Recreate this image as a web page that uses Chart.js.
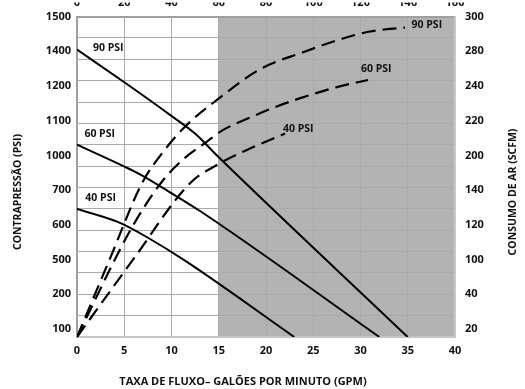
<!DOCTYPE html>
<html><head><meta charset="utf-8">
<script src="https://cdn.jsdelivr.net/npm/chart.js@4"></script>
<style>html,body{margin:0;padding:0;background:#fff;}canvas{display:block;}</style>
</head><body>
<canvas id="c" width="525" height="389"></canvas>
<script>
// Tick labels (left & right axes use the chart's own, unevenly valued, labels)
const LEFT_LABELS  = [100, 200, 500, 600, 700, 1000, 1100, 1200, 1400, 1500];
const RIGHT_LABELS = [20, 40, 100, 120, 140, 200, 220, 240, 280, 300];
const GPM_MIN = 0, GPM_MAX = 40, GPM_STEP = 5;
const TOP_MIN = 0, TOP_MAX = 160, TOP_STEP = 20;
const SHADE_FROM = 15, SHADE_TO = 40;

// Back pressure (PSI) vs flow (GPM) - solid lines
const BP90_GPM = [0, 4.97, 9.84, 12.49, 14.92, 35];
const BP90_PSI = [1405, 1223, 1117, 1063, 991, 77];
const BP60_GPM = [0, 4.97, 6.67, 9.84, 13.02, 32];
const BP60_PSI = [1031, 906, 837, 694, 640, 77];
const BP40_GPM = [0, 4.55, 7.51, 11.43, 23];
const BP40_PSI = [646, 606, 563, 491, 77];

// Air consumption (SCFM) vs flow (GPM) - dashed lines
const AIR90_GPM  = [0, 3.49, 6.88, 9.31, 11.64, 14.81, 19.37, 23.92, 28.15, 31.01, 34.71];
const AIR90_SCFM = [15.4, 100.6, 152, 203.4, 217.7, 232, 259.4, 278.9, 287.4, 291.4, 293.7];
const AIR60_GPM  = [0, 5.61, 8.78, 11.22, 13.76, 15.34, 17.99, 20.74, 23.39, 27.51, 30.79];
const AIR60_SCFM = [15.4, 116.6, 150.3, 193.1, 208, 214.3, 221.1, 227.4, 232.6, 239.4, 246.9];
const AIR40_GPM  = [0, 5.93, 11.96, 14.92, 18.31, 22.01];
const AIR40_SCFM = [15.4, 100, 152, 184.6, 204, 212.6];

// Curve labels: [text, gpm, value]
const SOLID_LABELS  = [["90 PSI", 3.3, 1409], ["60 PSI", 2.4, 1063], ["40 PSI", 2.5, 677]];
const DASHED_LABELS = [["90 PSI", 35.4, 295.4], ["60 PSI", 30.05, 259.4], ["40 PSI", 21.8, 215.4]];

const X_TITLE = "TAXA DE FLUXO\u2013 GAL\u00d5ES POR MINUTO (GPM)";
const YL_TITLE = "CONTRAPRESS\u00c3O (PSI)";
const YR_TITLE = "CONSUMO DE AR (SCFM)";

// position on the label axis (piecewise linear between labelled ticks)
function toPos(v, labels) {
  let i = 0;
  while (i < labels.length - 2 && v > labels[i + 1]) i++;
  return i + (v - labels[i]) / (labels[i + 1] - labels[i]);
}
function pts(xs, ys, labels) { return xs.map((g, i) => ({x: g, y: toPos(ys[i], labels)})); }

const FONT = 'Open Sans';
const TICK_FONT = {family: FONT, size: 11, weight: 'bold'};
const GRID = '#aaaaaa';
const POS_MIN = -8 / 35, POS_MAX = 9;

function solid(xs, ys) {
  return {data: pts(xs, ys, LEFT_LABELS), yAxisID: 'y', xAxisID: 'x', borderColor: '#000', borderWidth: 2,
          pointRadius: 0, fill: false, cubicInterpolationMode: 'monotone'};
}
function dashed(xs, ys) {
  return {data: pts(xs, ys, RIGHT_LABELS), yAxisID: 'yR', xAxisID: 'x', borderColor: '#000', borderWidth: 2.2,
          borderDash: [14, 7], pointRadius: 0, fill: false, cubicInterpolationMode: 'monotone'};
}

const shade = {
  id: 'shade',
  beforeDraw(chart) {
    const {ctx, chartArea: a, scales: {x}} = chart;
    const x0 = x.getPixelForValue(SHADE_FROM), x1 = x.getPixelForValue(SHADE_TO);
    ctx.save();
    ctx.fillStyle = '#b3b3b3';
    ctx.fillRect(x0, a.top, x1 - x0, a.bottom - a.top);
    ctx.restore();
  }
};

const texts = {
  id: 'texts',
  afterDatasetsDraw(chart) {
    const {ctx, scales: {x, y, yR}} = chart;
    ctx.save();
    ctx.fillStyle = '#111';
    ctx.font = 'bold 10.5px "' + FONT + '"';
    ctx.textBaseline = 'middle';
    ctx.textAlign = 'center';
    SOLID_LABELS.forEach(([t, g, v]) => ctx.fillText(t, x.getPixelForValue(g), y.getPixelForValue(toPos(v, LEFT_LABELS))));
    ctx.textAlign = 'left';
    DASHED_LABELS.forEach(([t, g, v]) => ctx.fillText(t, x.getPixelForValue(g), yR.getPixelForValue(toPos(v, RIGHT_LABELS))));
    // axis titles
    ctx.textAlign = 'center';
    ctx.font = 'bold 11px "' + FONT + '"';
    ctx.fillText(X_TITLE, 243, 382);
    ctx.font = 'bold 10.5px "' + FONT + '"';
    ctx.save(); ctx.translate(18, 192); ctx.rotate(-Math.PI / 2); ctx.fillText(YL_TITLE, 0, 0); ctx.restore();
    ctx.save(); ctx.translate(513, 192); ctx.rotate(-Math.PI / 2); ctx.fillText(YR_TITLE, 0, 0); ctx.restore();
    ctx.restore();
  }
};

new Chart(document.getElementById('c'), {
  type: 'line',
  data: {datasets: [
    solid(BP90_GPM, BP90_PSI), solid(BP60_GPM, BP60_PSI), solid(BP40_GPM, BP40_PSI),
    dashed(AIR90_GPM, AIR90_SCFM), dashed(AIR60_GPM, AIR60_SCFM), dashed(AIR40_GPM, AIR40_SCFM)
  ]},
  options: {
    responsive: false, animation: false, devicePixelRatio: 1,
    layout: {padding: 0},
    plugins: {legend: {display: false}, tooltip: {enabled: false}},
    scales: {
      x: {type: 'linear', position: 'bottom', min: GPM_MIN, max: GPM_MAX,
          ticks: {stepSize: GPM_STEP, padding: 7, font: TICK_FONT, color: '#111'},
          grid: {color: GRID, drawTicks: false}, border: {display: true, color: '#c4c4c4', width: 2},
          afterFit(s) { s.height = 52; }},
      x2: {type: 'linear', position: 'top', min: TOP_MIN, max: TOP_MAX,
          ticks: {stepSize: TOP_STEP, padding: 7, font: TICK_FONT, color: '#111'},
          grid: {display: false, drawTicks: false}, border: {display: true, color: '#a0a0a0', width: 2},
          afterFit(s) { s.height = 14; }},
      yG: {type: 'linear', position: 'left', weight: 0, min: 0, max: 15,
          ticks: {display: false, stepSize: 1},
          grid: {color: GRID, drawTicks: false}, border: {display: true, color: '#a0a0a0', width: 2},
          afterFit(s) { s.width = 0; }},
      y: {type: 'linear', position: 'left', weight: 1, min: POS_MIN, max: POS_MAX,
          afterBuildTicks(s) { s.ticks = LEFT_LABELS.map((_, i) => ({value: i})); },
          ticks: {callback: (v) => LEFT_LABELS[v], padding: 6, font: TICK_FONT, color: '#111'},
          grid: {display: false, drawTicks: false}, border: {display: false},
          afterFit(s) { s.width = 77; }},
      yR: {type: 'linear', position: 'right', min: POS_MIN, max: POS_MAX,
          afterBuildTicks(s) { s.ticks = RIGHT_LABELS.map((_, i) => ({value: i})); },
          ticks: {callback: (v) => RIGHT_LABELS[v], padding: 10, font: TICK_FONT, color: '#111'},
          grid: {display: false, drawTicks: false}, border: {display: true, color: '#c8c8c8', width: 2},
          afterFit(s) { s.width = 70; }}
    }
  },
  plugins: [shade, texts]
});
</script>
</body></html>
